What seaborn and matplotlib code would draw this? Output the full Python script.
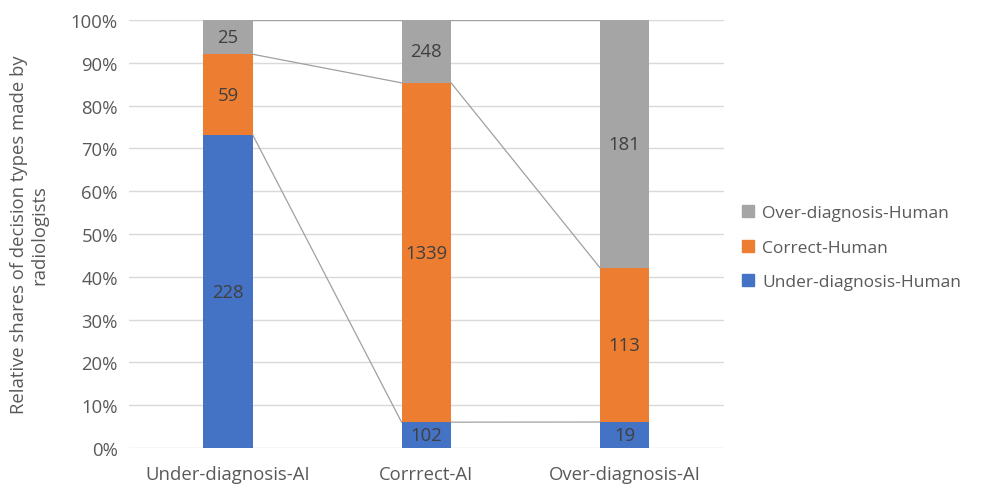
import numpy as np
import pandas as pd
import matplotlib
matplotlib.use("Agg")
import matplotlib.pyplot as plt
import seaborn as sns
from matplotlib.patches import Patch
from matplotlib.ticker import PercentFormatter

# -----------------------------
# DATA
# -----------------------------
categories = ["Under-diagnosis-AI", "Corrrect-AI", "Over-diagnosis-AI"]
under_human = [228, 102, 19]
correct_human = [59, 1339, 113]
over_human = [25, 248, 181]

series_names = ["Under-diagnosis-Human", "Correct-Human", "Over-diagnosis-Human"]
colors = ["#4472C4", "#ED7D31", "#A5A5A5"]

counts = np.array([under_human, correct_human, over_human], dtype=float)
totals = counts.sum(axis=0)
shares = counts / totals * 100
tops = np.cumsum(shares, axis=0)
bottoms = tops - shares

sns.set_style("white")
plt.rcParams["font.family"] = ["Open Sans", "DejaVu Sans"]
text_col = "#595959"
fs = 13.3

fig = plt.figure(figsize=(9.82, 4.85), dpi=100)
ax = fig.add_axes([0.1314, 0.0742, 0.6055, 0.8825])

bar_w = 0.25
for i, name in enumerate(series_names):
    df = pd.DataFrame({"cat": categories, "share": shares[i], "bottom": bottoms[i]})
    sns.barplot(data=df, x="cat", y="share", bottom=df["bottom"], color=colors[i],
                width=bar_w, saturation=1, linewidth=0, ax=ax, zorder=3)
    for j in range(len(categories)):
        ax.text(j, bottoms[i][j] + shares[i][j] / 2, f"{int(counts[i][j])}",
                ha="center", va="center", fontsize=fs, color="#404040", zorder=5)

# series lines between bars
for i in range(len(series_names)):
    for j in range(len(categories) - 1):
        ax.plot([j + bar_w / 2, j + 1 - bar_w / 2], [tops[i][j], tops[i][j + 1]],
                color="#A0A0A0", lw=0.9, zorder=4)

ax.set_xlim(-0.5, 2.5)
ax.set_ylim(0, 100)
ax.set_yticks(np.arange(0, 101, 10))
ax.yaxis.set_major_formatter(PercentFormatter(decimals=0))
ax.grid(axis="y", color="#D9D9D9", lw=1, zorder=0)
ax.set_axisbelow(True)
for s in ax.spines.values():
    s.set_visible(False)
ax.tick_params(axis="both", length=0, labelsize=fs, colors=text_col, pad=8)
ax.tick_params(axis="x", pad=12)
ax.set_xlabel("")
ax.set_ylabel("Relative shares of decision types made by\nradiologists",
              fontsize=fs, color=text_col, labelpad=16)

handles = [Patch(color=colors[i], label=series_names[i]) for i in range(2, -1, -1)]
fig.legend(handles=handles, loc="center left", bbox_to_anchor=(0.74, 0.487),
           frameon=False, fontsize=12.5, labelcolor=text_col,
           handlelength=0.7, handleheight=0.7, handletextpad=0.45, labelspacing=1.05)

fig.savefig("out.png", dpi=100)
